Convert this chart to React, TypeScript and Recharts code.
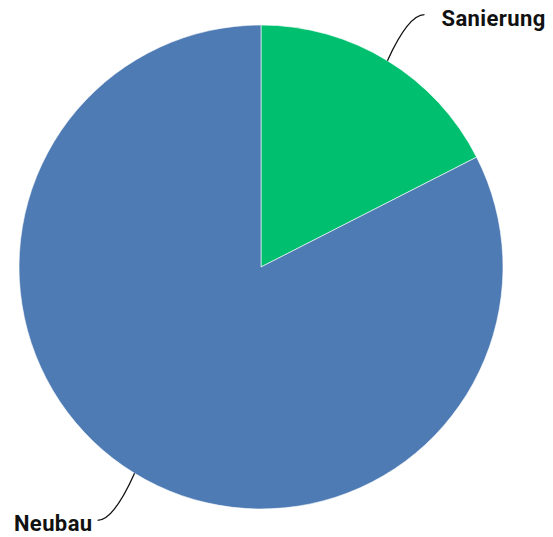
import React from "react";
import { PieChart, Pie, Cell } from "recharts";

const categories = ["Sanierung", "Neubau"];
const shares = [17.5, 82.5];
const colors = ["#00bf6f", "#4e7bb4"];

const data = categories.map((name, i) => ({ name, value: shares[i] }));

const RADIAN = Math.PI / 180;

// end point of the leader line, pushed out from the slice edge
const leaderEnd = (cx: number, cy: number, midAngle: number, r: number) => {
  const cos = Math.cos(-midAngle * RADIAN);
  const sin = Math.sin(-midAngle * RADIAN);
  const sx = cx + r * cos;
  const sy = cy + r * sin;
  const ex = sx + (cos >= 0 ? 37 : -37);
  const ey = sy + (sin >= 0 ? 47 : -46);
  return { sx, sy, ex, ey, right: cos >= 0 };
};

const renderLine = (props: any) => {
  const { cx, cy, midAngle, outerRadius } = props;
  const { sx, sy, ex, ey, right } = leaderEnd(cx, cy, midAngle, outerRadius);
  const qx = right ? ex - 16 : ex + 16;
  return (
    <path
      d={`M${sx},${sy} Q${qx},${ey} ${ex},${ey}`}
      stroke="#111"
      strokeWidth={1.3}
      fill="none"
    />
  );
};

const renderLabel = (props: any) => {
  const { cx, cy, midAngle, outerRadius, name } = props;
  const { ex, ey, right } = leaderEnd(cx, cy, midAngle, outerRadius);
  return (
    <text
      x={right ? ex + 17 : ex - 5}
      y={ey}
      dy={11}
      textAnchor={right ? "start" : "end"}
      fill="#111"
      fontSize={22}
      fontWeight={700}
      letterSpacing={0.4}
      fontFamily="Roboto, sans-serif"
    >
      {name}
    </text>
  );
};

export default function App() {
  return (
    <div style={{ width: 545, height: 529 }}>
      <PieChart width={545} height={529} style={{ overflow: "visible" }}>
        <Pie
          data={data}
          dataKey="value"
          nameKey="name"
          cx={248}
          cy={254}
          outerRadius={242}
          startAngle={90}
          endAngle={-270}
          stroke="#ffffff"
          strokeWidth={0.6}
          label={renderLabel}
          labelLine={renderLine}
          isAnimationActive={false}
        >
          {data.map((d, i) => (
            <Cell key={d.name} fill={colors[i]} />
          ))}
        </Pie>
      </PieChart>
    </div>
  );
}
